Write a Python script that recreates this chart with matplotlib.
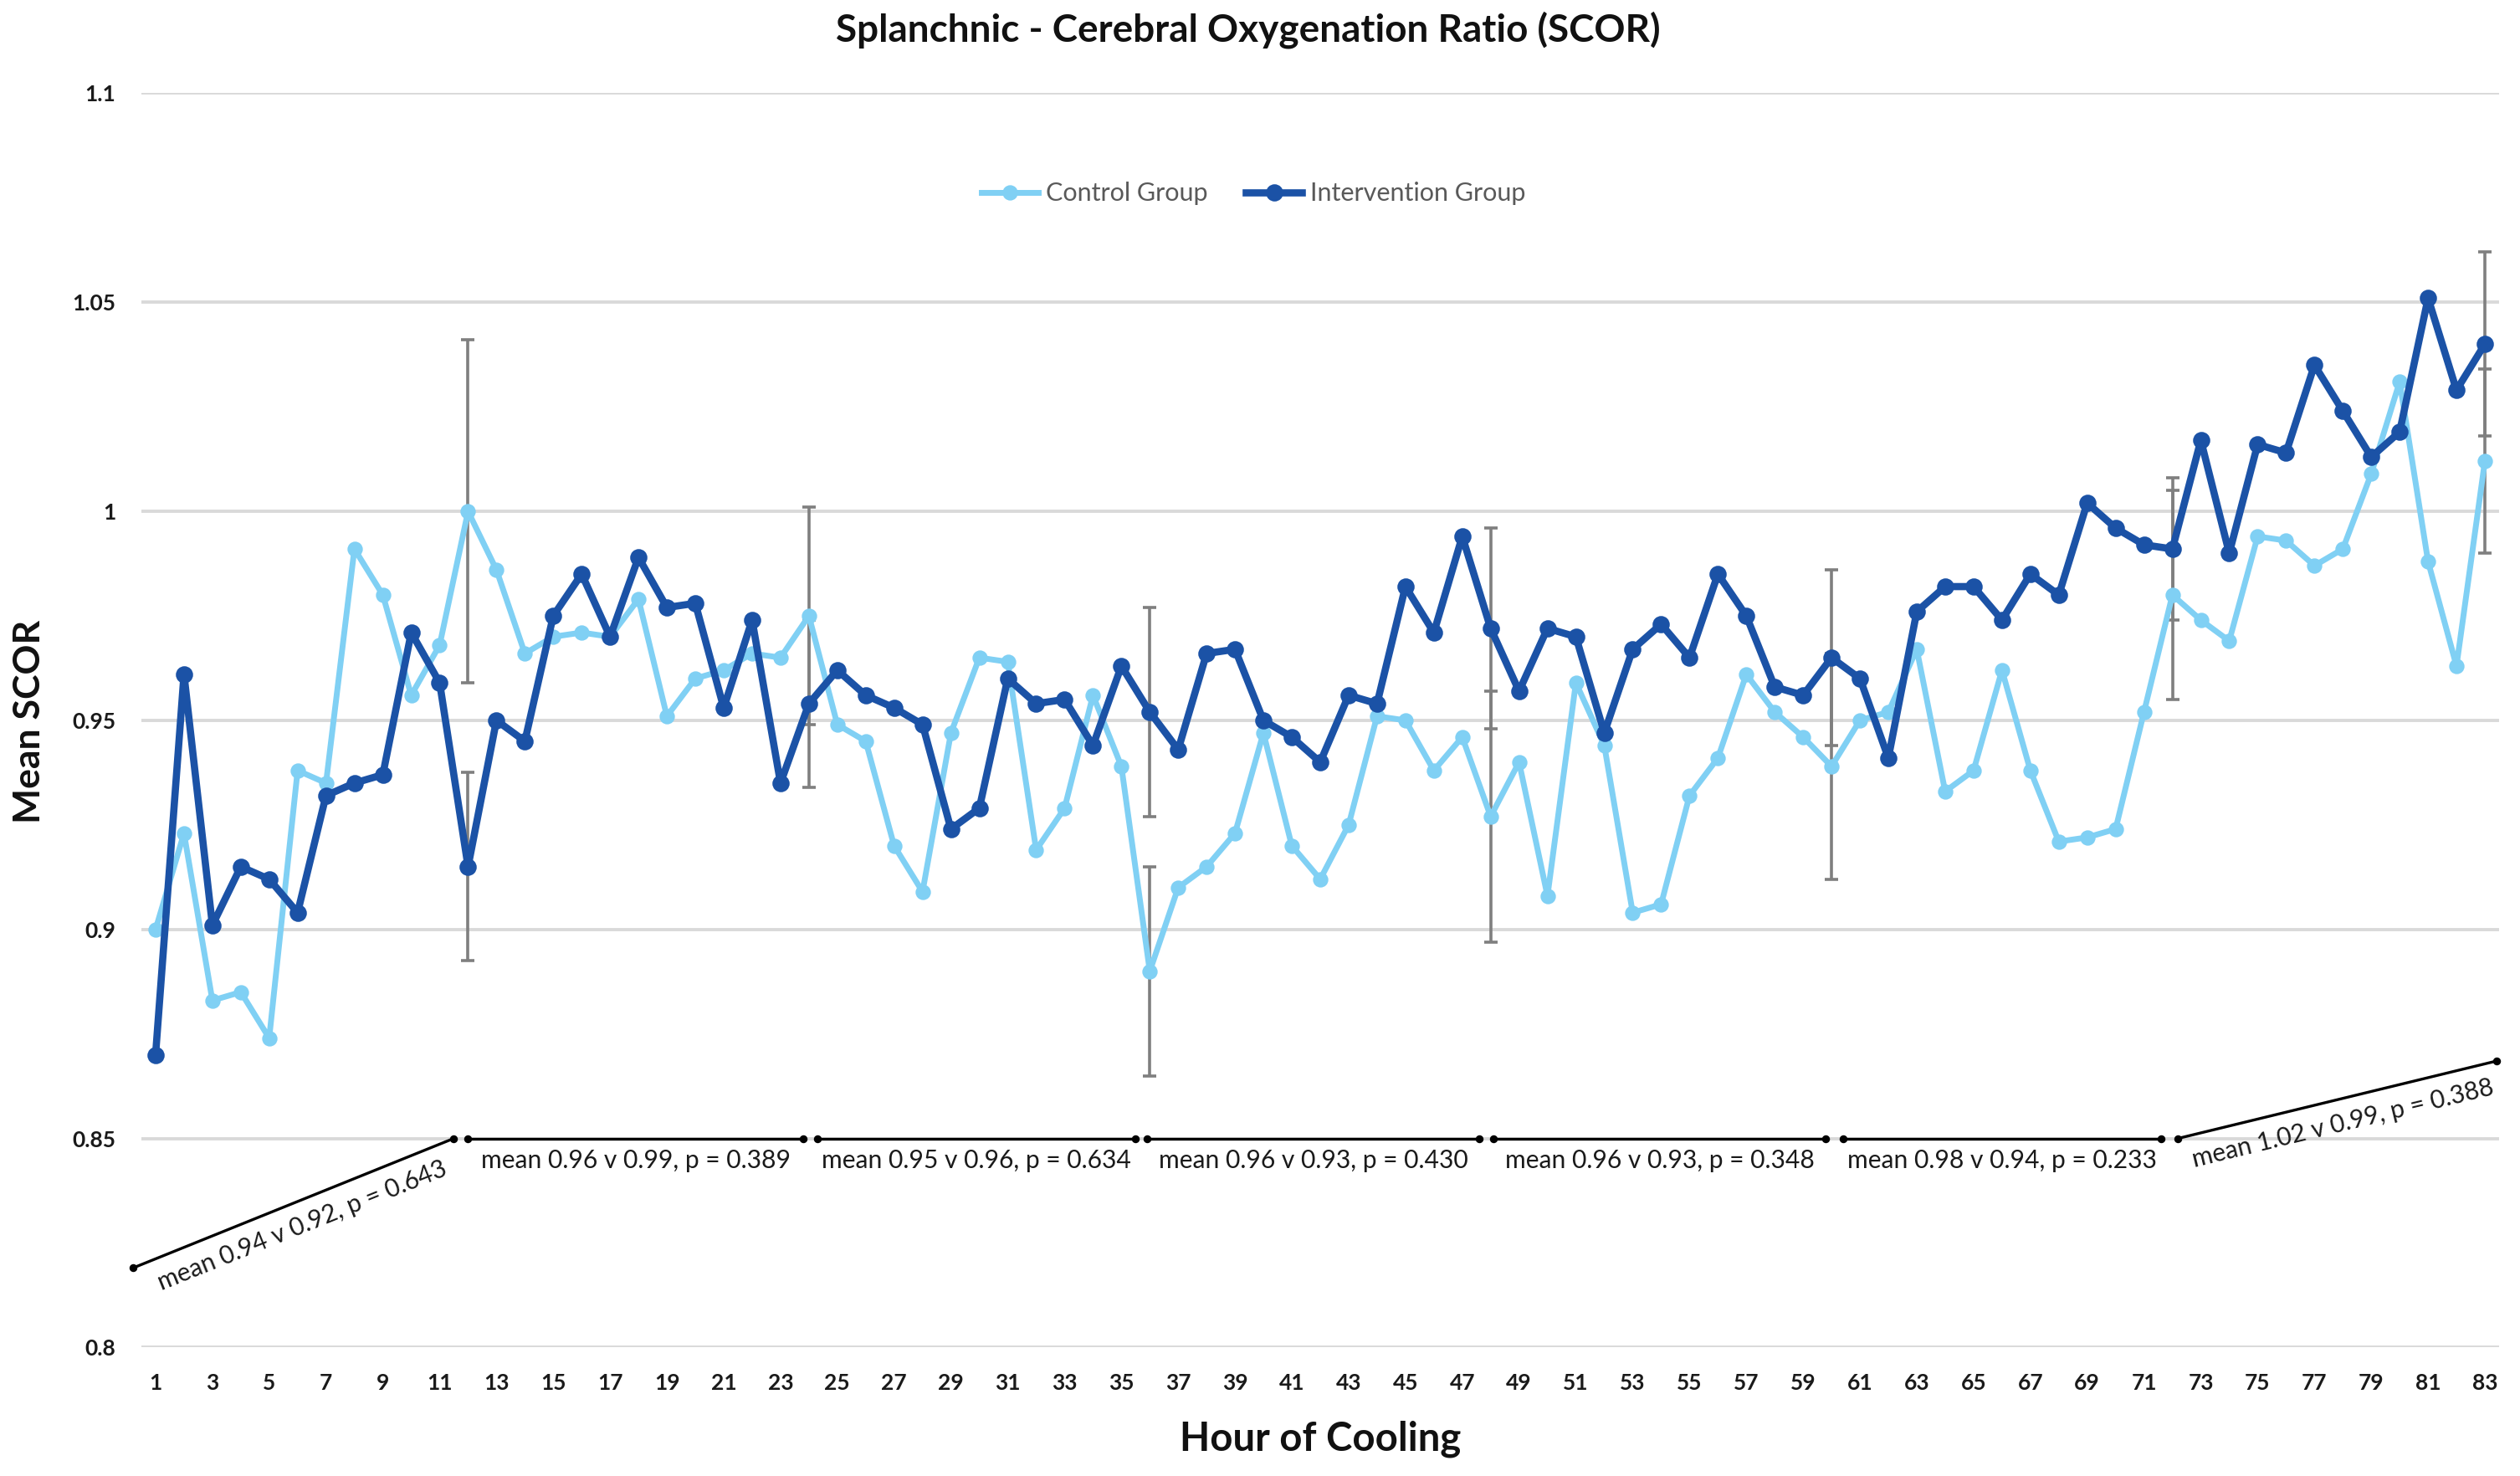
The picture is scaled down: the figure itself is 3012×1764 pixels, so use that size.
import numpy as np
import matplotlib
matplotlib.use("Agg")
import matplotlib.pyplot as plt

# hourly mean SCOR values
hours = np.arange(1, 84)
control = [0.900, 0.923, 0.883, 0.885, 0.874, 0.938, 0.935, 0.991, 0.980, 0.956,
           0.968, 1.000, 0.986, 0.966, 0.970, 0.971, 0.970, 0.979, 0.951, 0.960,
           0.962, 0.966, 0.965, 0.975, 0.949, 0.945, 0.920, 0.909, 0.947, 0.965,
           0.964, 0.919, 0.929, 0.956, 0.939, 0.890, 0.910, 0.915, 0.923, 0.947,
           0.920, 0.912, 0.925, 0.951, 0.950, 0.938, 0.946, 0.927, 0.940, 0.908,
           0.959, 0.944, 0.904, 0.906, 0.932, 0.941, 0.961, 0.952, 0.946, 0.939,
           0.950, 0.952, 0.967, 0.933, 0.938, 0.962, 0.938, 0.921, 0.922, 0.924,
           0.952, 0.980, 0.974, 0.969, 0.994, 0.993, 0.987, 0.991, 1.009, 1.031,
           0.988, 0.963, 1.012]
intervention = [0.870, 0.961, 0.901, 0.915, 0.912, 0.904, 0.932, 0.935, 0.937, 0.971,
                0.959, 0.915, 0.950, 0.945, 0.975, 0.985, 0.970, 0.989, 0.977, 0.978,
                0.953, 0.974, 0.935, 0.954, 0.962, 0.956, 0.953, 0.949, 0.924, 0.929,
                0.960, 0.954, 0.955, 0.944, 0.963, 0.952, 0.943, 0.966, 0.967, 0.950,
                0.946, 0.940, 0.956, 0.954, 0.982, 0.971, 0.994, 0.972, 0.957, 0.972,
                0.970, 0.947, 0.967, 0.973, 0.965, 0.985, 0.975, 0.958, 0.956, 0.965,
                0.960, 0.941, 0.976, 0.982, 0.982, 0.974, 0.985, 0.980, 1.002, 0.996,
                0.992, 0.991, 1.017, 0.990, 1.016, 1.014, 1.035, 1.024, 1.013, 1.019,
                1.051, 1.029, 1.040]

# error bars only every 12 h
err_hours = [12, 24, 36, 48, 60, 72, 83]
control_err = [0.041, 0.026, 0.025, 0.030, 0.027, 0.025, 0.022]
intervention_err = [0.0225, 0.020, 0.025, 0.024, 0.021, 0.017, 0.022]

block_labels = ["mean 0.94 v 0.92, p = 0.643", "mean 0.96 v 0.99, p = 0.389",
                "mean 0.95 v 0.96, p = 0.634", "mean 0.96 v 0.93, p = 0.430",
                "mean 0.96 v 0.93, p = 0.348", "mean 0.98 v 0.94, p = 0.233",
                "mean 1.02 v 0.99, p = 0.388"]

c_light = "#80D0F4"
c_dark = "#1B52A6"
font = ["Lato", "DejaVu Sans"]
plt.rcParams["font.family"] = font

fig = plt.figure(figsize=(15.06, 8.82), dpi=200)
ax = fig.add_axes([0.0561, 0.0871, 0.9356, 0.8497])

ax.plot(hours, control, color=c_light, lw=2.5, marker="o", ms=5.6, zorder=3,
        label="Control Group")
ax.plot(hours, intervention, color=c_dark, lw=3.1, marker="o", ms=6.4, zorder=4,
        label="Intervention Group")

ctrl_at = [control[h - 1] for h in err_hours]
int_at = [intervention[h - 1] for h in err_hours]
ax.errorbar(err_hours, ctrl_at, yerr=control_err, fmt="none", ecolor="#7f7f7f",
            elinewidth=1.3, capsize=3, capthick=1.3, zorder=2)
ax.errorbar(err_hours, int_at, yerr=intervention_err, fmt="none", ecolor="#7f7f7f",
            elinewidth=1.3, capsize=3, capthick=1.3, zorder=2)

ax.set_xlim(0.5, 83.5)
ax.set_ylim(0.8, 1.1)
ax.set_yticks([0.8, 0.85, 0.9, 0.95, 1.0, 1.05, 1.1])
ax.set_yticklabels(["0.8", "0.85", "0.9", "0.95", "1", "1.05", "1.1"])
ax.set_xticks(hours[::2])
ax.tick_params(axis="both", length=0, labelsize=9.5, colors="#1a1a1a")
ax.tick_params(axis="x", pad=11)
ax.tick_params(axis="y", pad=11)
for t in ax.get_xticklabels() + ax.get_yticklabels():
    t.set_fontweight("bold")
ax.grid(axis="y", color="#d9d9d9", lw=1.4)
ax.set_axisbelow(True)
for s in ax.spines.values():
    s.set_visible(False)

leg = ax.legend(loc="center", bbox_to_anchor=(0.4717, 0.92), ncol=2, frameon=False,
                fontsize=11, handlelength=2.2, columnspacing=1.5, handletextpad=0.3)
for t in leg.get_texts():
    t.set_color("#595959")

# block summary annotations
seg_x = [(0.2, 11.5), (12.0, 23.8), (24.3, 35.5), (35.9, 47.6),
         (48.1, 59.8), (60.4, 71.6), (72.2, 83.4)]
seg_y = [(0.819, 0.85)] + [(0.85, 0.85)] * 5 + [(0.85, 0.8685)]
for (x0, x1), (y0, y1), txt in zip(seg_x, seg_y, block_labels):
    ax.plot([x0, x1], [y0, y1], color="black", lw=1.2, marker="o", ms=2.4,
            clip_on=False, zorder=5)
    p0 = ax.transData.transform((x0, y0))
    p1 = ax.transData.transform((x1, y1))
    ang = np.degrees(np.arctan2(p1[1] - p0[1], p1[0] - p0[0]))
    d = 10.5 if ang > 1 else 9.5
    off = (d * np.sin(np.radians(ang)), -d * np.cos(np.radians(ang)))
    ax.annotate(txt, xy=((x0 + x1) / 2, (y0 + y1) / 2), xytext=off,
                textcoords="offset points", rotation=ang, rotation_mode="anchor",
                ha="center", va="center", fontsize=10.8, color="#1a1a1a",
                annotation_clip=False)

fig.text(0.4952, 0.980, "Splanchnic - Cerebral Oxygenation Ratio (SCOR)",
         ha="center", va="center", fontsize=16.5, fontweight="bold", color="#111111")
fig.text(0.0115, 0.5114, "Mean SCOR", rotation=90, ha="center", va="center",
         fontsize=16, fontweight="bold", color="#111111")
fig.text(0.524, 0.025, "Hour of Cooling", ha="center", va="center",
         fontsize=17, fontweight="bold", color="#111111")

fig.savefig("out.png", dpi=200, facecolor="white")
